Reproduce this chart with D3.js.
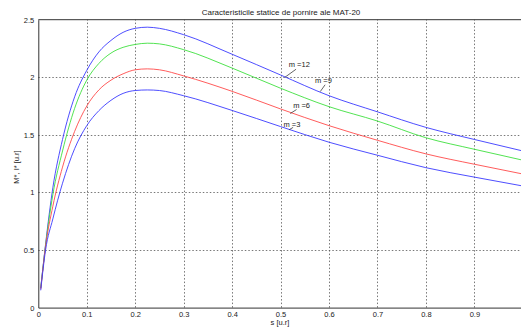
<!DOCTYPE html>
<html>
<head>
<meta charset="utf-8">
<script src="https://cdn.jsdelivr.net/npm/d3@7"></script>
<style>
  body { margin: 0; background: #fff; }
  svg text { font-family: "Liberation Sans", Arial, sans-serif; fill: #222; }
</style>
</head>
<body>
<div id="container"></div>
<script>
/* DATA | */
const slip = [0.005, 0.015, 0.03, 0.05, 0.075, 0.1, 0.125, 0.15, 0.175, 0.2, 0.225, 0.25, 0.3, 0.4, 0.5, 0.6, 0.7, 0.8, 0.9, 1.0]
const m12 = [0.17, 0.55, 1.04, 1.46, 1.83, 2.06, 2.22, 2.32, 2.39, 2.425, 2.435, 2.425, 2.37, 2.20, 2.02, 1.84, 1.70, 1.565, 1.46, 1.36]
const m9 = [0.17, 0.54, 0.98, 1.36, 1.73, 1.975, 2.12, 2.21, 2.26, 2.285, 2.296, 2.29, 2.24, 2.08, 1.905, 1.745, 1.62, 1.475, 1.375, 1.28]
const m6 = [0.16, 0.53, 0.88, 1.22, 1.53, 1.75, 1.89, 1.975, 2.03, 2.065, 2.073, 2.065, 2.012, 1.878, 1.725, 1.58, 1.453, 1.335, 1.245, 1.16]
const m3 = [0.15, 0.50, 0.77, 1.08, 1.38, 1.58, 1.71, 1.80, 1.86, 1.885, 1.89, 1.885, 1.84, 1.712, 1.572, 1.436, 1.323, 1.215, 1.133, 1.056]
const seriesNames = ["m =12", "m =9", "m =6", "m =3"]
const xTicks = [0, 0.1, 0.2, 0.3, 0.4, 0.5, 0.6, 0.7, 0.8, 0.9]
const yTicks = [0, 0.5, 1, 1.5, 2, 2.5]
/* label callouts in data units: leader from curve (s0,v0) to (s1,v1), text at (st,vt) */
const callouts = [
  { name: "m =12", s0: 0.509, v0: 2.00, s1: 0.532, v1: 2.07, st: 0.517, vt: 2.09 },
  { name: "m =9", s0: 0.582, v0: 1.876, s1: 0.592, v1: 1.935, st: 0.571, vt: 1.95 },
  { name: "m =6", s0: 0.520, v0: 1.685, s1: 0.533, v1: 1.72, st: 0.526, vt: 1.73 },
  { name: "m =3", s0: 0.518, v0: 1.545, s1: 0.526, v1: 1.565, st: 0.506, vt: 1.565 }
]

/* CONSTANTS */
const width = 521, height = 329
const margin = { top: 19.7, left: 38.3, bottom: 21.4 }
const plotRight = margin.left + 484.5
const colors = ["#3a3aff", "#3ee03e", "#ff4a4a", "#3a3aff"]

const xScale = d3.scaleLinear().domain([0, 1]).range([margin.left, plotRight])
const yScale = d3.scaleLinear().domain([0, 2.5]).range([height - margin.bottom, margin.top])

const svg = d3.select("#container").append("svg")
  .attr("width", width)
  .attr("height", height)

svg.append("defs").append("clipPath").attr("id", "plot")
  .append("rect")
  .attr("x", margin.left).attr("y", margin.top)
  .attr("width", plotRight - margin.left)
  .attr("height", yScale(0) - margin.top)

/* GRID */
const grid = svg.append("g").attr("class", "grid")
  .attr("stroke", "#555").attr("stroke-width", 0.8).attr("stroke-dasharray", "1.5,2")
grid.selectAll(".vg").data(xTicks.slice(1)).join("line")
  .attr("x1", d => Math.round(xScale(d)) + 0.5).attr("x2", d => Math.round(xScale(d)) + 0.5)
  .attr("y1", yScale(0)).attr("y2", yScale(2.5))
grid.selectAll(".hg").data(yTicks.slice(1, -1)).join("line")
  .attr("x1", xScale(0)).attr("x2", plotRight)
  .attr("y1", d => Math.round(yScale(d)) + 0.5).attr("y2", d => Math.round(yScale(d)) + 0.5)

/* AXES */
const xAxis = d3.axisBottom(xScale).tickValues(xTicks).tickSize(0).tickPadding(4)
  .tickFormat(d => d === 0 ? "0" : d3.format(".1f")(d))
const xAxisGroup = svg.append("g")
  .attr("transform", `translate(0, ${yScale(0)})`)
  .call(xAxis)
const yAxis = d3.axisLeft(yScale).tickValues(yTicks).tickSize(0).tickPadding(4)
  .tickFormat(d => d3.format("~g")(d))
const yAxisGroup = svg.append("g")
  .attr("transform", `translate(${margin.left}, 0)`)
  .call(yAxis)
for (const g of [xAxisGroup, yAxisGroup]) {
  g.select(".domain").attr("stroke", "#333")
  g.selectAll("text").style("font-size", "7.5px").style("fill", "#222")
}
svg.append("line")
  .attr("x1", margin.left).attr("x2", plotRight)
  .attr("y1", margin.top).attr("y2", margin.top)
  .attr("stroke", "#333")

/* CURVES */
const lineGen = d3.line()
  .x(d => xScale(d[0]))
  .y(d => yScale(d[1]))
  .curve(d3.curveMonotoneX)
const series = [m12, m9, m6, m3].map((vals, i) => ({
  name: seriesNames[i], color: colors[i], points: vals.map((v, j) => [slip[j], v])
}))
svg.append("g").attr("clip-path", "url(#plot)")
  .selectAll("path").data(series).join("path")
  .attr("fill", "none")
  .attr("stroke", d => d.color)
  .attr("stroke-width", 0.9)
  .attr("d", d => lineGen(d.points))

/* CALLOUTS */
const co = svg.append("g")
co.selectAll("line").data(callouts).join("line")
  .attr("x1", d => xScale(d.s0)).attr("y1", d => yScale(d.v0))
  .attr("x2", d => xScale(d.s1)).attr("y2", d => yScale(d.v1))
  .attr("stroke", "#222").attr("stroke-width", 0.7)
co.selectAll("text").data(callouts).join("text")
  .attr("x", d => xScale(d.st)).attr("y", d => yScale(d.vt))
  .style("font-size", "7.5px")
  .text(d => d.name)

/* TITLE AND LABELS */
svg.append("text")
  .attr("x", 281).attr("y", 15)
  .attr("text-anchor", "middle")
  .style("font-size", "8px")
  .text("Caracteristicile statice de pornire ale MAT-20")
svg.append("text")
  .attr("x", 280).attr("y", 325)
  .attr("text-anchor", "middle")
  .style("font-size", "7.5px")
  .text("s [u.r]")
svg.append("text")
  .attr("transform", `translate(19, 167) rotate(-90)`)
  .attr("text-anchor", "middle")
  .style("font-size", "7.5px")
  .text("M*, I* [u.r]")
</script>
</body>
</html>
